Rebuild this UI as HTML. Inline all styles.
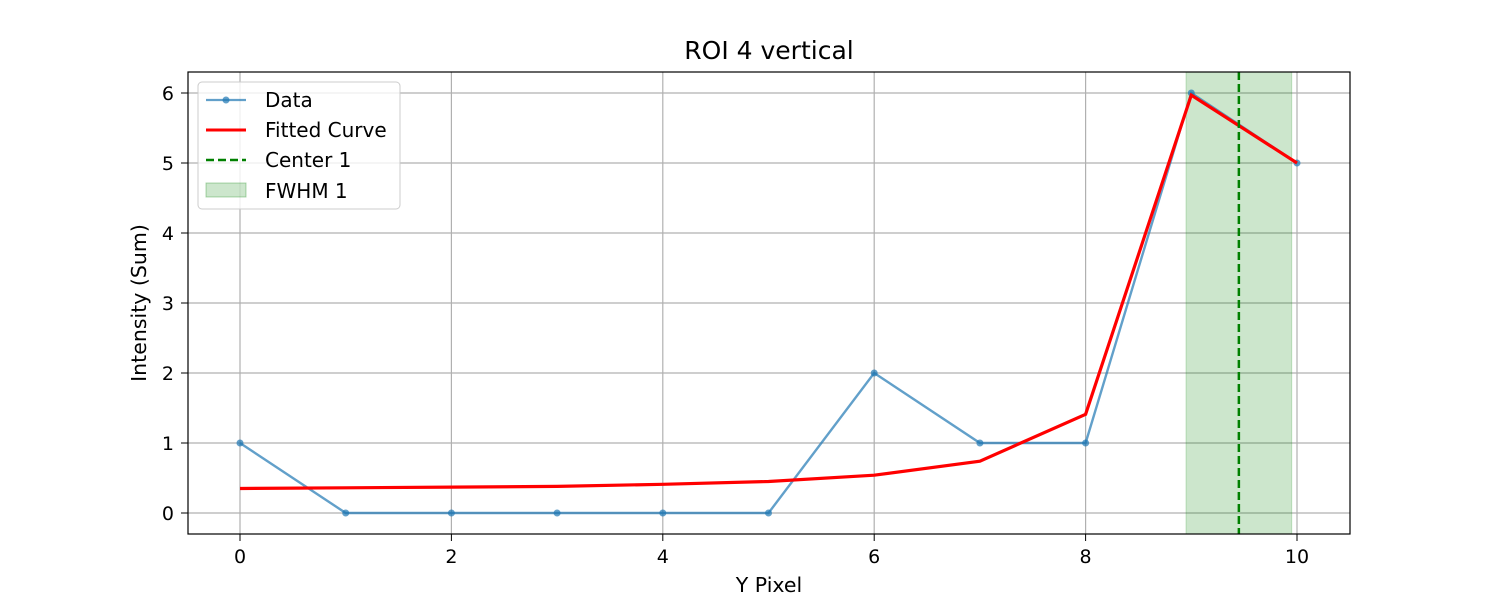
<!DOCTYPE html>
<html><head><meta charset="utf-8">
<style>
body{margin:0;background:#fff;font-family:"Liberation Sans","DejaVu Sans",sans-serif;}
svg text{font-family:"DejaVu Sans","Liberation Sans",sans-serif;}
</style></head>
<body>
<svg id="chart" width="1500" height="600" xmlns="http://www.w3.org/2000/svg">
<rect width="1500" height="600" fill="#fff"/>
<g id="grid"></g>
<g id="band"></g>
<g id="series"></g>
<rect x="188" y="72" width="1162" height="462" fill="none" stroke="#000" stroke-width="1.2"/>
<g id="ticks"></g>
<text x="769" y="59" font-size="25" text-anchor="middle">ROI 4 vertical</text>
<text x="769" y="592" font-size="20.5" text-anchor="middle">Y Pixel</text>
<text transform="translate(146,303) rotate(-90)" font-size="20.5" text-anchor="middle">Intensity (Sum)</text>
<g>
<rect x="198" y="82" width="202" height="127" rx="4" fill="#fff" fill-opacity="0.8" stroke="#ccc"/>
<g>
<line x1="206" y1="100" x2="246" y2="100" stroke="#1f77b4" stroke-opacity="0.7" stroke-width="2.2"/>
<circle cx="226" cy="100" r="3.5" fill="#1f77b4" fill-opacity="0.7"/>
<text x="265" y="107" font-size="20">Data</text></g>
<g>
<line x1="206" y1="130" x2="246" y2="130" stroke="red" stroke-width="3"/>
<text x="265" y="137" font-size="20">Fitted Curve</text></g>
<g>
<line x1="206" y1="160" x2="246" y2="160" stroke="green" stroke-width="2.5" stroke-dasharray="8,4"/>
<text x="265" y="167" font-size="20">Center 1</text></g>
<g>
<rect x="206" y="183" width="40" height="14" fill="green" fill-opacity="0.2" stroke="green" stroke-opacity="0.3"/>
<text x="265" y="198" font-size="20">FWHM 1</text></g>
</g>
</svg>
<script>
const xValues=[0,1,2,3,4,5,6,7,8,9,10];
const dataValues=[1,0,0,0,0,0,2,1,1,6,5];
const fitValues=[0.35,0.36,0.37,0.38,0.41,0.45,0.54,0.74,1.41,5.97,5.0];
const xTicks=[0,2,4,6,8,10];
const yTicks=[0,1,2,3,4,5,6];
const center=9.45;
const fwhmRange=[8.95,9.95];
const NS="http://www.w3.org/2000/svg";
const sx=v=>240+v*105.7;
const sy=v=>513-v*70;
function mk(t,a,p){const e=document.createElementNS(NS,t);for(const k in a)e.setAttribute(k,a[k]);p.appendChild(e);return e;}
const grid=document.getElementById('grid'),ticks=document.getElementById('ticks');
xTicks.forEach(v=>{
 const g=mk('line',{x1:sx(v),x2:sx(v),y1:72,y2:534,stroke:'#b0b0b0','stroke-width':1.2},grid);
 
 
 mk('line',{x1:sx(v),x2:sx(v),y1:534,y2:541,stroke:'#000'},ticks);
 const t=mk('text',{x:sx(v),y:563,'font-size':19,'text-anchor':'middle'},ticks);t.textContent=v;
 
 
});
yTicks.forEach(v=>{
 const g=mk('line',{x1:188,x2:1350,y1:sy(v),y2:sy(v),stroke:'#b0b0b0','stroke-width':1.2},grid);
 
 
 mk('line',{x1:181,x2:188,y1:sy(v),y2:sy(v),stroke:'#000'},ticks);
 const t=mk('text',{x:174,y:sy(v)+7,'font-size':19,'text-anchor':'end'},ticks);t.textContent=v;
 
 
});
const band=document.getElementById('band');
const r=mk('rect',{x:sx(fwhmRange[0]),y:72,width:sx(fwhmRange[1])-sx(fwhmRange[0]),height:462,fill:'green','fill-opacity':0.2,stroke:'green','stroke-opacity':0.2},band);


const s=document.getElementById('series');
const dl=mk('polyline',{points:xValues.map((x,i)=>sx(x)+','+sy(dataValues[i])).join(' '),fill:'none',stroke:'#1f77b4','stroke-opacity':0.7,'stroke-width':2.4},s);


xValues.forEach((x,i)=>{
 const c=mk('circle',{cx:sx(x),cy:sy(dataValues[i]),r:3.5,fill:'#1f77b4','fill-opacity':0.7},s);
 
 
});
const fl=mk('polyline',{points:xValues.map((x,i)=>sx(x)+','+sy(fitValues[i])).join(' '),fill:'none',stroke:'red','stroke-width':3.2},s);


const cl=mk('line',{x1:sx(center),x2:sx(center),y1:72,y2:534,stroke:'green','stroke-width':2.5,'stroke-dasharray':'8,4'},s);


</script>
</body></html>
